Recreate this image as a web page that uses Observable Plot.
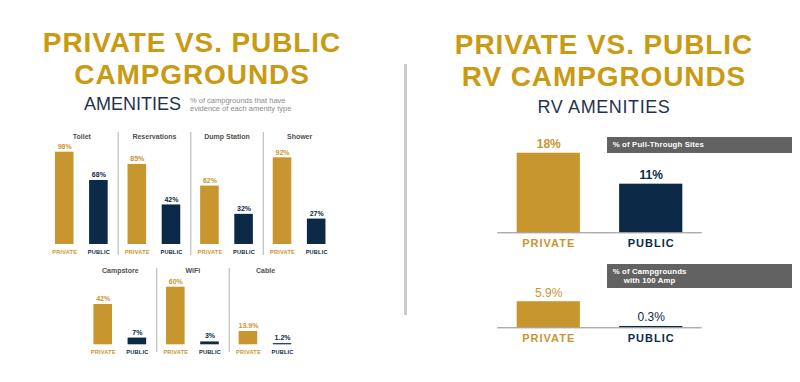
<!DOCTYPE html>
<html>
<head>
<meta charset="utf-8">
<script src="https://cdn.jsdelivr.net/npm/d3@7"></script>
<script src="https://cdn.jsdelivr.net/npm/@observablehq/plot@0.6"></script>
<style>
  body { margin: 0; background: #fff; }
  #root { position: relative; width: 800px; height: 382px; overflow: hidden; font-family: "Liberation Sans", Arial, sans-serif; background: #fff; }
  .abs { position: absolute; }
  .title { color: #c99a12; font-weight: bold; font-size: 28px; line-height: 31.3px; letter-spacing: 0.9px; text-align: center; white-space: nowrap; width: 384px; }
  .sub { color: #1f3350; font-size: 18px; line-height: 18px; white-space: nowrap; }
  .note { color: #8c8c8c; font-size: 7.5px; line-height: 8.5px; white-space: nowrap; }
  .box { background: #626262; color: #fff; font-weight: bold; font-size: 7.8px; letter-spacing: 0.15px; white-space: nowrap; box-sizing: border-box; }
  .divider { background: #cccccc; }
  g[aria-description="cat"] text { letter-spacing: 1px; }
  g[aria-description="catsmall"] text { letter-spacing: 0.2px; }
</style>
</head>
<body>
<div id="root"></div>
<script>
// ---------------- data ----------------
const types = ["PRIVATE", "PUBLIC"];

const row1Groups = ["Toilet", "Reservations", "Dump Station", "Shower"];
const row1Private = [98, 85, 62, 92];
const row1Public = [68, 42, 32, 27];

const row2Groups = ["Campstore", "WiFi", "Cable"];
const row2Private = [42, 60, 13.9];
const row2Public = [7, 3, 1.2];

const pullThrough = [18, 11];     // % of Pull-Through Sites
const amp100 = [5.9, 0.3];        // % of Campgrounds with 100 Amp

const GOLD = "#c8962e";
const NAVY = "#0c2a48";
const fmt = v => `${v}%`;

function rows(groups, priv, pub) {
  return groups.flatMap((g, i) => [
    {group: g, type: "PRIVATE", value: priv[i]},
    {group: g, type: "PUBLIC", value: pub[i]}
  ]);
}
const row1 = rows(row1Groups, row1Private, row1Public);
const row2 = rows(row2Groups, row2Private, row2Public);
const rv1 = types.map((t, i) => ({type: t, value: pullThrough[i]}));
const rv2 = types.map((t, i) => ({type: t, value: amp100[i]}));

const root = document.getElementById("root");
function place(el, left, top) {
  el.style.position = "absolute";
  el.style.left = left + "px";
  el.style.top = top + "px";
  root.appendChild(el);
}
function html(cls, left, top, content, extra = "") {
  const d = document.createElement("div");
  d.className = "abs " + cls;
  d.style.cssText = `left:${left}px;top:${top}px;${extra}`;
  d.innerHTML = content;
  root.appendChild(d);
  return d;
}

// ---------------- headings ----------------
html("title", 0, 27.2, "PRIVATE VS. PUBLIC");
html("title", 0, 58.5, "CAMPGROUNDS");
html("title", 412, 29.2, "PRIVATE VS. PUBLIC");
html("title", 412, 60.5, "RV CAMPGROUNDS");
html("sub", 84, 94.6, "AMENITIES");
html("note", 190, 96.5, "% of campgrounds that have<br>evidence of each amenity type");
html("sub", 412, 97.6, "RV AMENITIES", "width:384px;text-align:center;letter-spacing:0.6px;");
html("divider", 404, 64, "", "width:3px;height:251px;");

// ---------------- left: faceted amenity bars ----------------
function amenityRow(data, groups, opts) {
  return Plot.plot({
    width: opts.width, height: opts.height,
    marginLeft: opts.ml, marginRight: opts.mr, marginTop: opts.mt, marginBottom: opts.mb,
    style: {background: "transparent", fontFamily: "'Liberation Sans', Arial, sans-serif", overflow: "visible"},
    fx: {domain: groups, padding: 0, round: false, axis: null},
    x: {domain: types, paddingInner: 0.456, paddingOuter: 0.291, round: false, axis: null},
    y: {domain: opts.ydomain, axis: null},
    color: {domain: types, range: [GOLD, NAVY]},
    marks: [
      Plot.ruleX(groups.slice(1), {fx: d => d, x: () => "PRIVATE", dx: -19.15,
        insetTop: opts.sepTop, insetBottom: opts.sepBottom, stroke: "#c4c4c4", strokeWidth: 1.3}),
      Plot.barY(data, {fx: "group", x: "type", y: "value", fill: "type"}),
      Plot.text(data, {fx: "group", x: "type", y: "value", text: d => fmt(d.value), fill: "type",
        lineAnchor: "middle", dy: opts.valDy, fontSize: 7, fontWeight: "bold"}),
      Plot.text(data, {fx: "group", x: "type", y: () => 0, text: "type", fill: "type",
        lineAnchor: "middle", dy: opts.catDy, fontSize: 5.6, fontWeight: "bold", ariaDescription: "catsmall"}),
      Plot.text(groups, {fx: d => d, frameAnchor: "top", text: d => d, lineAnchor: "middle",
        dy: opts.grpDy, fontSize: 7, fontWeight: "bold", fill: "#505050"})
    ]
  });
}

place(amenityRow(row1, row1Groups, {
  width: 320, height: 140, ml: 15, mr: 14.6, mt: 29.8, mb: 16,
  ydomain: [0, 100], sepTop: -17.8, sepBottom: -11, valDy: -5.5, catDy: 8, grpDy: -13.8
}), 30, 120);

place(amenityRow(row2, row2Groups, {
  width: 240, height: 105, ml: 13.5, mr: 8.7, mt: 12.5, mb: 15.7,
  ydomain: [0, 80], sepTop: 0.5, sepBottom: -7.7, valDy: -5.7, catDy: 7.5, grpDy: 3.2
}), 70, 255);

// ---------------- right: RV amenity bars ----------------
function rvChart(data, opts) {
  return Plot.plot({
    width: 230, height: opts.height,
    marginLeft: 17.3, marginRight: 8.3, marginTop: opts.mt, marginBottom: opts.mb,
    style: {background: "transparent", fontFamily: "'Liberation Sans', Arial, sans-serif", overflow: "visible"},
    x: {domain: types, paddingInner: 0.383, paddingOuter: 0.189, round: false, axis: null},
    y: {domain: opts.ydomain, axis: null},
    color: {domain: types, range: [GOLD, NAVY]},
    marks: [
      Plot.barY(data, {x: "type", y: "value", fill: "type"}),
      Plot.ruleY([0], {stroke: "#8a8a8a", strokeWidth: 1}),
      Plot.text(data, {x: "type", y: "value", text: d => fmt(d.value), fill: "type",
        lineAnchor: "middle", dy: opts.valDy, fontSize: 12, fontWeight: opts.valWeight}),
      Plot.text(data, {x: "type", y: () => 0, text: "type", fill: "type",
        lineAnchor: "middle", dy: opts.catDy, fontSize: 11, fontWeight: "bold", ariaDescription: "cat"})
    ]
  });
}

place(rvChart(rv1, {height: 130, mt: 18.9, mb: 22.7, ydomain: [0, 20], valDy: -9.2, catDy: 10.6, valWeight: "bold"}), 480, 125);
place(rvChart(rv2, {height: 100, mt: 28.1, mb: 27.7, ydomain: [0, 10], valDy: -9, catDy: 11, valWeight: "normal"}), 480, 255);

// ---------------- annotation boxes ----------------
html("box", 607, 137, "% of Pull-Through Sites", "width:185px;height:15.5px;line-height:15.5px;padding-left:5.7px;");
html("box", 607, 264, '<div style="display:inline-block;text-align:center;">% of Campgrounds<br>with 100 Amp</div>',
  "width:185px;height:23.5px;line-height:9.3px;padding-left:5.7px;padding-top:2.5px;");
</script>
</body>
</html>
